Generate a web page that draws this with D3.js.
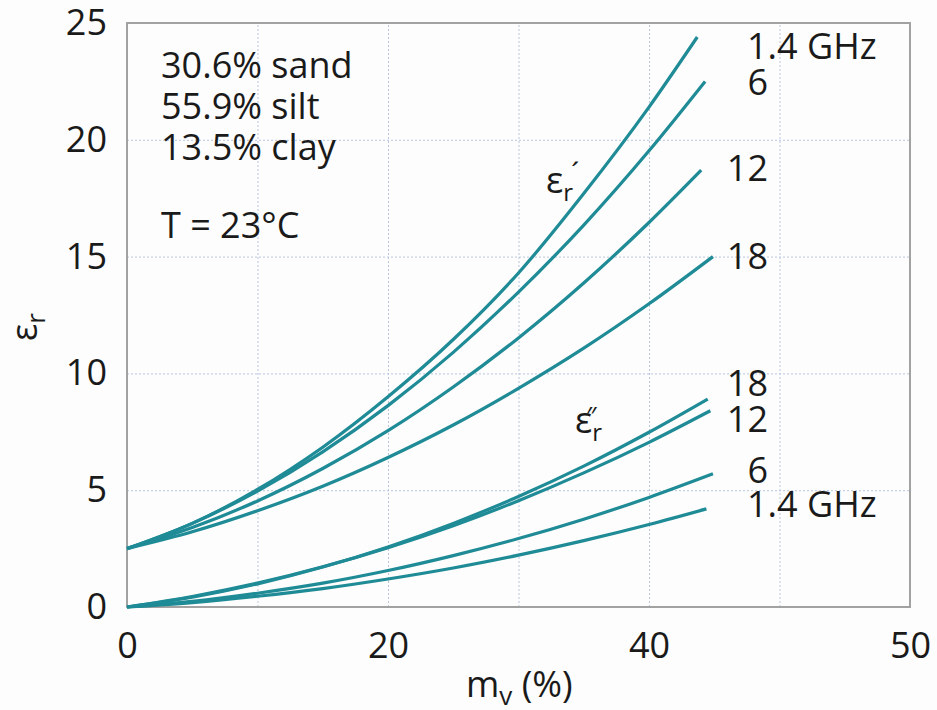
<!DOCTYPE html>
<html>
<head>
<meta charset="utf-8">
<script src="https://cdn.jsdelivr.net/npm/d3@7"></script>
<style>
  body { margin: 0; background: #fcfdfc; }
  svg { display: block; font-family: "Open Sans", "DejaVu Sans", sans-serif; }
</style>
</head>
<body>
<svg width="937" height="710"></svg>
<script>
// soil moisture (%) at which each curve is sampled; last point is the curve end
const mvPoints = [0, 5, 10, 15, 20, 25, 30, 35, 40];

// real part eps' for 1.4, 6, 12, 18 GHz
const realEndMv = [43.7, 44.3, 44.0, 44.9];
const real14 = [2.5, 3.58, 5.03, 6.84, 9.0, 11.45, 14.3, 17.7, 21.4, 24.4];
const real6  = [2.5, 3.58, 4.96, 6.64, 8.62, 10.9, 13.48, 16.35, 19.53, 22.5];
const real12 = [2.5, 3.40, 4.54, 5.93, 7.55, 9.42, 11.52, 13.87, 16.46, 18.7];
const real18 = [2.5, 3.22, 4.12, 5.17, 6.40, 7.79, 9.36, 11.08, 12.98, 15.0];

// imaginary part eps'' for 1.4, 6, 12, 18 GHz
const imagEndMv = [44.4, 44.9, 44.7, 44.5];
const imag14 = [0, 0.19, 0.46, 0.79, 1.20, 1.67, 2.22, 2.84, 3.53, 4.2];
const imag6  = [0, 0.24, 0.59, 1.02, 1.56, 2.20, 2.93, 3.76, 4.69, 5.7];
const imag12 = [0, 0.45, 1.02, 1.72, 2.54, 3.48, 4.55, 5.74, 7.05, 8.4];
const imag18 = [0, 0.42, 0.99, 1.71, 2.57, 3.58, 4.73, 6.03, 7.48, 8.9];

const xTickValues = [0, 20, 40, 60];
const xTickLabels = ["0", "20", "40", "50"];
const yTickValues = [0, 5, 10, 15, 20, 25];

const soilLines = ["30.6% sand", "55.9% silt", "13.5% clay"];

function Start() {
    const svg = d3.select('svg');
    const teal = '#1f8b96';

    const x = d3.scaleLinear().domain([0, 60]).range([127, 910]);
    const y = d3.scaleLinear().domain([0, 25]).range([607, 23]);

    const toPoints = (vals, endMv) => vals.map((v, i) => [i < mvPoints.length ? mvPoints[i] : endMv, v]);

    const series = [
        toPoints(real14, realEndMv[0]), toPoints(real6, realEndMv[1]),
        toPoints(real12, realEndMv[2]), toPoints(real18, realEndMv[3]),
        toPoints(imag14, imagEndMv[0]), toPoints(imag6, imagEndMv[1]),
        toPoints(imag12, imagEndMv[2]), toPoints(imag18, imagEndMv[3])
    ];

    // grid
    svg.append('g').attr('transform', 'translate(0,607)')
        .call(d3.axisBottom(x).tickValues([10, 20, 30, 40, 50]).tickSize(-584).tickFormat(''))
        .call(g => g.select('.domain').remove())
        .selectAll('line').attr('stroke', '#b9c6de').attr('stroke-dasharray', '2,2');
    svg.append('g').attr('transform', 'translate(127,0)')
        .call(d3.axisLeft(y).tickValues([5, 10, 15, 20]).tickSize(-783).tickFormat(''))
        .call(g => g.select('.domain').remove())
        .selectAll('line').attr('stroke', '#b9c6de').attr('stroke-dasharray', '2,2');

    // frame
    svg.append('rect')
        .attr('x', x(0)).attr('y', y(25))
        .attr('width', x(60) - x(0)).attr('height', y(0) - y(25))
        .attr('fill', 'none').attr('stroke', '#a2a2a2').attr('stroke-width', 2);

    // axes labels
    const xAxis = svg.append('g').attr('transform', 'translate(0,607)')
        .call(d3.axisBottom(x).tickValues(xTickValues).tickSize(0).tickPadding(25)
            .tickFormat((d, i) => xTickLabels[i]));
    xAxis.select('.domain').remove();
    xAxis.selectAll('text').attr('font-size', 36).attr('fill', '#1a1a1a')
        .attr('font-family', '"Open Sans", sans-serif');

    const yAxis = svg.append('g').attr('transform', 'translate(127,0)')
        .call(d3.axisLeft(y).tickValues(yTickValues).tickSize(0).tickPadding(20));
    yAxis.select('.domain').remove();
    yAxis.selectAll('text').attr('font-size', 36).attr('fill', '#1a1a1a')
        .attr('font-family', '"Open Sans", sans-serif');

    // curves
    const line = d3.line().x(d => x(d[0])).y(d => y(d[1])).curve(d3.curveMonotoneX);
    svg.append('g').selectAll('path').data(series).enter().append('path')
        .attr('d', line)
        .attr('fill', 'none')
        .attr('stroke', teal)
        .attr('stroke-width', 3.2);

    const txt = svg.append('g').attr('fill', '#1a1a1a').attr('font-size', 36);

    // soil composition
    txt.selectAll('.soil').data(soilLines).enter().append('text')
        .attr('x', 161).attr('y', (d, i) => 78 + i * 41)
        .text(d => d);
    txt.append('text').attr('x', 161).attr('y', 238).text('T = 23°C');

    // frequency labels
    txt.append('text').attr('x', 747).attr('y', 59).text('1.4 GHz');
    txt.append('text').attr('x', 768).attr('y', 95).attr('text-anchor', 'end').text('6');
    txt.append('text').attr('x', 768).attr('y', 181).attr('text-anchor', 'end').text('12');
    txt.append('text').attr('x', 768).attr('y', 269).attr('text-anchor', 'end').text('18');
    txt.append('text').attr('x', 768).attr('y', 396).attr('text-anchor', 'end').text('18');
    txt.append('text').attr('x', 768).attr('y', 432).attr('text-anchor', 'end').text('12');
    txt.append('text').attr('x', 768).attr('y', 483).attr('text-anchor', 'end').text('6');
    txt.append('text').attr('x', 747).attr('y', 517).text('1.4 GHz');

    // eps' and eps'' labels
    const epsR = txt.append('text').attr('x', 546).attr('y', 193);
    epsR.append('tspan').text('ε');
    epsR.append('tspan').attr('font-size', 24).attr('dy', 8).text('r');
    txt.append('text').attr('x', 571).attr('y', 184).attr('font-size', 30).text('´');

    const epsI = txt.append('text').attr('x', 575).attr('y', 433);
    epsI.append('tspan').text('ε');
    epsI.append('tspan').attr('font-size', 24).attr('dy', 8).text('r');
    txt.append('text').attr('x', 586).attr('y', 425).attr('font-size', 26).text('″');

    // axis titles
    const yTitle = txt.append('text').attr('transform', 'translate(37,327) rotate(-90)')
        .attr('text-anchor', 'middle');
    yTitle.append('tspan').text('ε');
    yTitle.append('tspan').attr('font-size', 26).attr('dy', 8).text('r');

    const xTitle = txt.append('text').attr('x', 466).attr('y', 697);
    xTitle.append('tspan').text('m');
    xTitle.append('tspan').attr('font-size', 26).attr('dy', 8).text('v');
    xTitle.append('tspan').attr('dy', -8).text(' (%)');
}
Start();
</script>
</body>
</html>
